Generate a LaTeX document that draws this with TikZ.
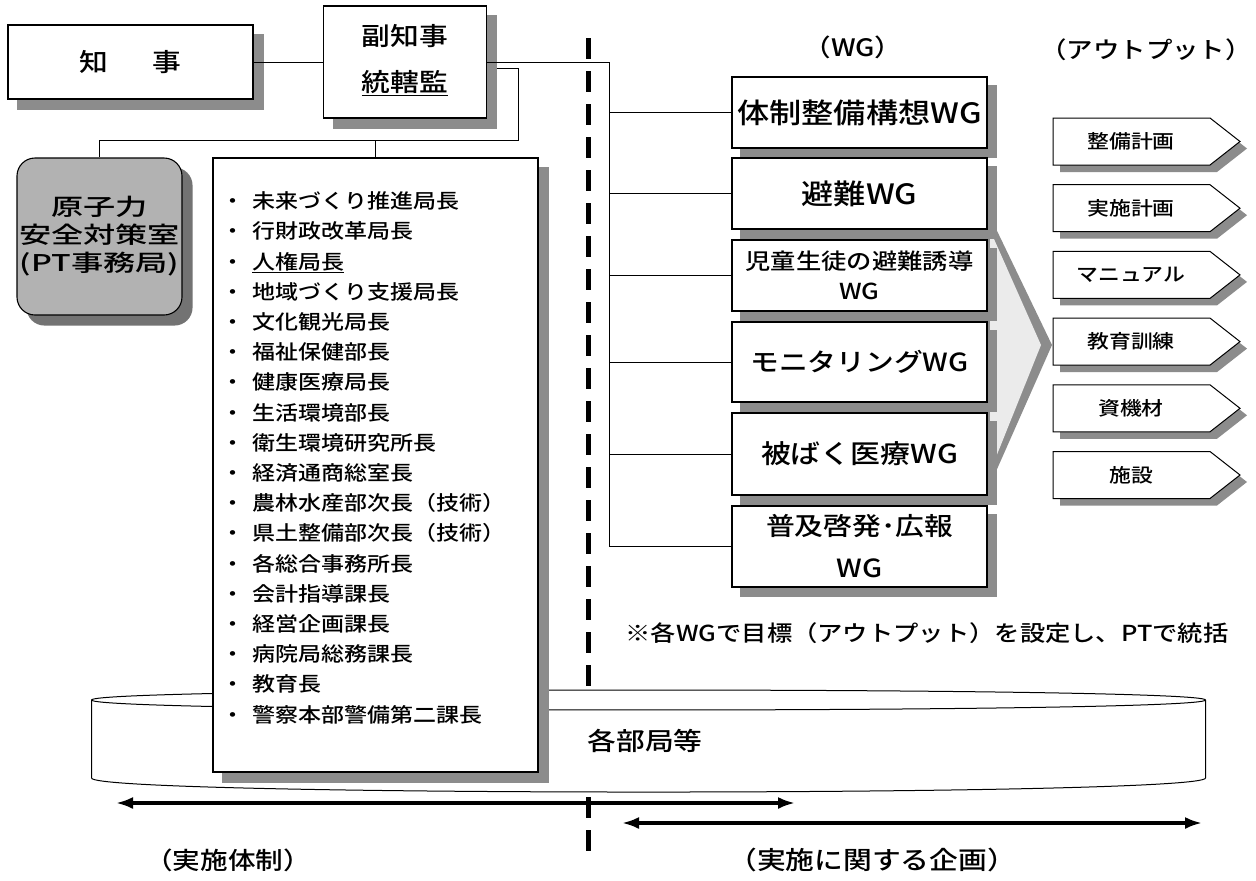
\documentclass[tikz,border=0pt]{standalone}
\usepackage{fontspec}
\setmainfont{Noto Sans CJK JP}[UprightFont={* Medium}, FakeStretch=1.15]
\newfontfamily\widefont{Noto Sans CJK JP}[UprightFont={* Medium}, FakeStretch=1.4]
\usetikzlibrary{arrows.meta,calc}
\newcommand\fsz[2]{\fontsize{#1}{#2}\selectfont}
\pgfdeclarelayer{back}
\pgfdeclarelayer{shadowlayer}
\pgfsetlayers{back,shadowlayer,main}
\begin{document}
\begin{tikzpicture}[x=1pt,y=-1pt,
  base/.style={draw=black, fill=white, line width=1.1pt, inner sep=0pt, align=center},
  shadowfill/.style={fill=black!45},
  wg/.style={base, minimum width=255pt},
  conn/.style={line width=0.9pt, draw=black},
  item/.style={anchor=base west, inner sep=0pt, font=\fsz{20}{24}},
  outshape/.style={draw=black, fill=white, line width=1pt},
  twohead/.style={line width=3.2pt, {Latex[length=17pt,width=12pt]}-{Latex[length=17pt,width=12pt]}},
]
\useasboundingbox (0,0) rectangle (1256,881);

\begin{pgfonlayer}{back}
\fill[white] (0,0) rectangle (1256,881);
% dashed divider
\coordinate (dtop) at (588,38);
\coordinate (dbot) at (588,862);
\draw[line width=5pt, dash pattern=on 21pt off 12pt] (dtop) -- (dbot);
% cylinder
\fill[white] (91.5,700) .. controls (91.5,686.7) and (1205.5,686.7) .. (1205.5,700)
  -- (1205.5,778) .. controls (1205.5,796.7) and (91.5,796.7) .. (91.5,778) -- cycle;
\draw[line width=1pt] (91.5,700) .. controls (91.5,686.7) and (1205.5,686.7) .. (1205.5,700)
  -- (1205.5,778) .. controls (1205.5,796.7) and (91.5,796.7) .. (91.5,778) -- cycle;
\draw[line width=1pt] (91.5,700) .. controls (91.5,713.3) and (1205.5,713.3) .. (1205.5,700);
% chevron
\coordinate (chA) at (986,208);
\coordinate (chT) at (1052,345);
\coordinate (chB) at (986,494);
\fill[black!45] (chA) -- (chT) -- (chB) -- cycle;
\fill[black!8] ($(chA)+(4,22)$) -- ($(chT)+(-11,0)$) -- ($(chB)+(4,-22)$) -- cycle;
\end{pgfonlayer}

\node[font=\fsz{25}{30}] (kakubu) at (645,741) {各部局等};

% boxes
\node[base, minimum width=245pt, minimum height=74pt, font=\fsz{25}{30}] (chiji) at (130.5,62) {知\hspace{1.8em}事};
\node[base, minimum width=163pt, minimum height=112pt] (fuku) at (405,62) {};
\node[align=center, font=\fsz{25}{46}] (fukutxt) at (405,60) {副知事\\\underline{統轄監}};
\node[base, fill=black!30, rounded corners=18pt, minimum width=165pt, minimum height=157pt, font=\widefont\fsz{23}{28}] (genshi) at (99.5,236.5) {原子力\\安全対策室\\(PT事務局)};
\node[base, minimum width=325pt, minimum height=614pt] (list) at (375.5,465) {};

\foreach \t [count=\i] in {未来づくり推進局長, 行財政改革局長, {\underline{人権局長}}, 地域づくり支援局長, 文化観光局長, 福祉保健部長, 健康医療局長, 生活環境部長, 衛生環境研究所長, 経済通商総室長, 農林水産部次長（技術）, 県土整備部次長（技術）, 各総合事務所長, 会計指導課長, 経営企画課長, 病院局総務課長, 教育長, 警察本部警備第二課長}
  \node[item] (item\i) at (221, 208.6+30.2*\i-30.2) {・\hspace{8pt}\t};

\node[wg, minimum height=71pt, font=\fsz{28}{32}] (wg1) at (859.5,112.5) {体制整備構想WG};
\node[wg, minimum height=71pt, font=\fsz{28}{32}] (wg2) at (859.5,193.5) {避難WG};
\node[wg, minimum height=71pt, font=\fsz{22}{30}] (wg3) at (859.5,275.5) {児童生徒の避難誘導\\WG};
\node[wg, minimum height=80pt, font=\fsz{25}{30}] (wg4) at (859.5,362) {モニタリングWG};
\node[wg, minimum height=82pt, font=\fsz{26}{30}] (wg5) at (859.5,454) {被ばく医療WG};
\node[wg, minimum height=81pt, font=\fsz{25}{42}] (wg6) at (859.5,546.5) {普及啓発･広報\\WG};

% shadows of the boxes
\begin{pgfonlayer}{shadowlayer}
\foreach \n/\d in {chiji/10, fuku/10, list/10, wg1/9, wg2/9, wg3/9, wg4/9, wg5/9, wg6/9}
  \fill[shadowfill] ($(\n.north west)+(\d,\d)$) rectangle ($(\n.south east)+(\d,\d)$);
\fill[black!55, rounded corners=18pt] ($(genshi.north west)+(10,10)$) rectangle ($(genshi.south east)+(10,10)$);
\end{pgfonlayer}

% connectors
\coordinate (busTop) at (609,62);
\coordinate (busBot) at (609,547);
\coordinate (c1) at (518,68);
\coordinate (c2) at (518,140);
\draw[conn] (chiji.east) -- (fuku.west);
\draw[conn] (fuku.east) -- (busTop) -- (busBot);
\foreach \k in {1,...,6} \draw[conn] (busTop |- wg\k.west) -- (wg\k.west);
\draw[conn] ([xshift=10pt]fuku.east |- c1) -- (c1) -- (c2) -| (genshi.north);
\draw[conn] (list.north) -- (list.north |- c2);

% outputs
\foreach \t [count=\i] in {整備計画,実施計画,マニュアル,教育訓練,資機材,施設} {
  \pgfmathsetmacro\yc{141.5+66.7*(\i-1)}
  \fill[shadowfill] (1060,\yc-16.5) -- (1217,\yc-16.5) -- (1247,\yc+7) -- (1217,\yc+30.5) -- (1060,\yc+30.5) -- cycle;
  \draw[outshape] (1053,\yc-23.5) -- (1210,\yc-23.5) -- (1240,\yc) -- (1210,\yc+23.5) -- (1053,\yc+23.5) -- cycle;
  \node[font=\fsz{19}{23}] (out\i) at (1131,\yc) {\t};
}

% labels
\node[font=\fsz{24}{28}] (lblwg) at (853,47) {（WG）};
\node[font=\fsz{23}{27}] (lblout) at (1146,50) {（アウトプット）};
\node[font=\fsz{22}{26}] (note) at (927,633) {※各WGで目標（アウトプット）を設定し、PTで統括};
\node[font=\fsz{24}{28}] (lbl1) at (228,860) {（実施体制）};
\node[font=\fsz{25}{29}] (lbl2) at (872,860) {（実施に関する企画）};

% bottom arrows
\coordinate (a1l) at (116,803);
\coordinate (a1r) at (795,803);
\coordinate (a2l) at (622,823);
\coordinate (a2r) at (1202,823);
\draw[twohead] (a1l) -- (a1r);
\draw[twohead] (a2l) -- (a2r);
\end{tikzpicture}
\end{document}
